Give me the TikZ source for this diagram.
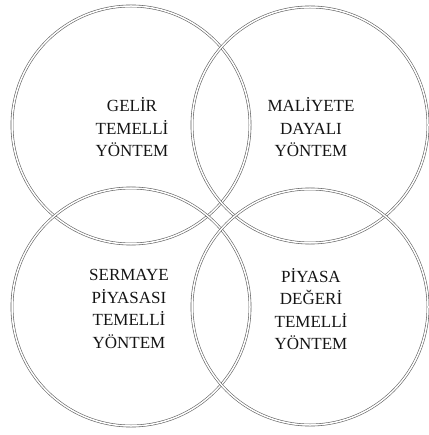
\documentclass[tikz,border=0pt]{standalone}
\usepackage{fontspec}
\setmainfont{Liberation Serif}
\begin{document}
\begin{tikzpicture}[x=1pt,y=-1pt,
  ring/.style={draw=black!62,line width=0.6pt,double=white,double distance=1.5pt},
  label/.style={align=center,text=black!92,font=\fontsize{17}{22.5}\selectfont,inner sep=0pt}]
\useasboundingbox (0,0) rectangle (428,435);
\draw[ring] (131,125) circle[radius=119];
\draw[ring] (310,125) circle[radius=118];
\draw[ring] (131,307) circle[radius=119];
\draw[ring] (310,307) circle[radius=118];
\node[label] (a) at (132,127.5) {GEL\.IR\\TEMELL\.I\\YÖNTEM};
\node[label] (b) at (311,127.5) {MAL\.IYETE\\DAYALI\\YÖNTEM};
\node[label] (c) at (129,309) {SERMAYE\\P\.IYASASI\\TEMELL\.I\\YÖNTEM};
\node[label] (d) at (311,309) {P\.IYASA\\DEĞER\.I\\TEMELL\.I\\YÖNTEM};
\end{tikzpicture}
\end{document}
